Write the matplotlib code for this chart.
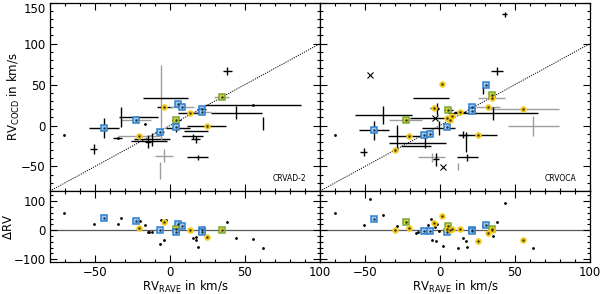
import numpy as np
import matplotlib
matplotlib.use('Agg')
import matplotlib.pyplot as plt
from matplotlib.ticker import MultipleLocator

# ---------------- CRVAD-2 (left) ----------------
ad_rave = [-71, -51, -44, -35, -23, -33, -17, -21, -12, -15, -6, -4, -3, -7, 5.5, 8, 4, 4,
           13, 21, 21, 24.4, 34.5, 38, 55, 44, 62, 18.4, 15, 17, -4, -7, -14, -20, 5, 17]
ad_cocd = [-11, -29, -3, -15, 7, 10, 2, -13, -17, -20, 28, 23, 33, -8, 26.6, 22.6, 7, -2,
           15, 20.6, 16, 0, 34.7, 66.6, 25, 15.4, 2, -39, -13, -17, -37, -55, -19, 10.5, -3, -7]
ad_xerr = [0, 2.5, 10, 3, 10, 1, 0, 14, 12, 2, 0, 5, 15, 3, 2, 8, 3, 1,
           8, 3, 6, 13, 5, 3, 32, 17, 0, 7, 7, 3, 6, 0, 12, 12, 8, 8]
ad_yerr = [0, 6, 12, 0, 4, 12, 0, 0, 8, 8, 46, 0, 0, 3, 3, 0, 0, 6,
           0, 2, 0, 0, 0, 5, 0, 8, 8, 3, 3, 4, 8, 10, 0, 0, 0, 0]
ad_kind = ['k', 'c', 'b', 'k', 'b', 'c', 'k', 'y', 'c', 'c', 'c', 'y', 'c', 'b', 'b', 'b', 'g', 'b',
           'y', 'b', 'b', 'y', 'g', 'c', 'k', 'c', 'c', 'c', 'c', 'c', 'c', 'c', 'c', 'c', 'c', 'c']
ad_grey = [0, 0, 0, 0, 1, 0, 0, 1, 0, 0, 1, 0, 0, 0, 0, 1, 0, 0,
           0, 0, 1, 0, 1, 0, 0, 0, 0, 0, 0, 0, 1, 1, 0, 0, 0, 0]

# ---------------- CRVOCA (right) ----------------
oc_rave = [43, -47, 38, 1, 30.7, 28.5, 34.5, 34.5, -6, -4, -2, 5.6, 13.4, 21.6, 21, 32, 55, 35,
           -38, -23, 62, -44, -70, -21, -29, -30, -51, -10.6, -6.6, 4.5, 25, 15.6, 17.5, 18,
           -5.5, -3, 2.3, 12.3, -1, -10, -15, -16, 4.5, 6.7, 7.8, -3.3, -8]
oc_cocd = [136, 62, 66.5, 51, 49, 43, 37.5, 33.5, 33.5, 21, 20, 19, 16.5, 22, 18, 22, 20.5, 15,
           13, 6.5, -1, -6, -11, -13, -15, -30, -32, -12, -10, -2, -12, -11, -20, -39,
           -39, -41, -51, -50, -3, -18, -21, -25, 9, 7, 11, 9, 9]
oc_xerr = [1.5, 0, 4, 0, 0, 0, 0, 9, 12, 3, 1, 3, 4, 0, 2, 8, 24, 30,
           19, 11, 17, 10, 0, 14, 0, 0, 2.5, 2, 2, 0, 13, 3, 0, 7,
           9, 2, 0, 0, 11, 0, 19, 10, 0, 0, 0, 0, 12]
oc_yerr = [3, 0, 5, 0, 0, 4, 0, 0, 0, 0, 7, 0, 0, 0, 0, 0, 0, 8,
           11, 0, 12, 12, 0, 0, 16, 0, 5, 0, 0, 0, 0, 4, 12, 4,
           6, 8, 0, 4, 8, 10, 0, 0, 0, 0, 0, 0, 0]
oc_kind = ['c', 'x', 'c', 'y', 'b', 'c', 'g', 'y', 'c', 'y', 'c', 'g', 'y', 'b', 'b', 'y', 'y', 'c',
           'c', 'g', 'c', 'b', 'k', 'y', 'c', 'y', 'c', 'b', 'b', 'b', 'y', 'c', 'c', 'c',
           'c', 'c', 'x', 'c', 'c', 'c', 'c', 'c', 'y', 'y', 'y', 'x', 'c']
oc_grey = [0, 0, 0, 0, 0, 0, 0, 1, 0, 0, 0, 0, 0, 0, 0, 1, 1, 0,
           0, 1, 1, 0, 0, 0, 0, 0, 0, 0, 0, 0, 0, 0, 0, 0,
           1, 0, 0, 1, 0, 0, 0, 0, 0, 0, 0, 0, 0]

panel_names = ['CRVAD-2', 'CRVOCA']
x_ticks = [-50, 0, 50, 100]
top_yticks = [-50, 0, 50, 100, 150]
bot_yticks = [-100, 0, 100]

BLUE_E = '#2f7fd0'
BLUE_F = '#9fcaf0'
YEL = '#f2cc1a'
GRN_E = '#78a83a'
GRN_F = '#d9cf3a'
FS = 8.5

plt.rcParams['font.family'] = ['DejaVu Sans']
fig = plt.figure(figsize=(6.0, 2.94), dpi=100)

L0, W = 50 / 600, 270 / 600
top_b, top_h = 1 - 191 / 294, (191 - 2.7) / 294
bot_b, bot_h = 1 - 262 / 294, (262 - 191) / 294


def style(ax, ylabels, xlabels, ymajor, yminor):
    ax.set_xlim(-80, 100)
    ax.xaxis.set_major_locator(MultipleLocator(50))
    ax.xaxis.set_minor_locator(MultipleLocator(10))
    ax.yaxis.set_major_locator(MultipleLocator(ymajor))
    ax.yaxis.set_minor_locator(MultipleLocator(yminor))
    ax.tick_params(which='both', direction='in', top=True, right=True, width=0.8,
                   labelsize=FS, pad=3)
    ax.tick_params(which='major', length=5)
    ax.tick_params(which='minor', length=2.5)
    ax.tick_params(labelleft=ylabels, labelbottom=xlabels)
    for s in ax.spines.values():
        s.set_linewidth(0.9)


def marker(ax, x, y, k, bottom=False):
    if k == 'b':
        ax.plot(x, y, 's', ms=4.4, mfc=BLUE_F, mec=BLUE_E, mew=1.1, zorder=4)
        ax.plot(x, y, '.', ms=1.5, color='#203040', zorder=5)
    elif k == 'y':
        ax.plot(x, y, 'o', ms=4.0, mfc=YEL, mec=YEL, mew=0.6, zorder=4)
        ax.plot(x, y, '.', ms=1.5, color='#403010', zorder=5)
    elif k == 'g':
        ax.plot(x, y, 's', ms=4.4, mfc=GRN_F, mec=GRN_E, mew=1.1, zorder=4)
        ax.plot(x, y, '.', ms=1.5, color='#303010', zorder=5)
    elif k == 'x' and not bottom:
        ax.plot(x, y, 'x', ms=5, color='k', mew=0.8, zorder=4)
    elif k == 'k' or bottom:
        ax.plot(x, y, '.', ms=2, color='k', zorder=3)


def draw_top(ax, rave, cocd, xerr, yerr, kind, grey):
    ax.plot([-80, 100], [-80, 100], ls=(0, (1.2, 1.2)), color='k', lw=0.7, zorder=1)
    for x, y, ex, ey, k, g in zip(rave, cocd, xerr, yerr, kind, grey):
        col = '0.62' if g else 'k'
        if ex > 0 or ey > 0:
            ax.errorbar(x, y, xerr=ex if ex > 0 else None, yerr=ey if ey > 0 else None,
                        fmt='none', ecolor=col, elinewidth=1.0, capsize=0, zorder=2)
        marker(ax, x, y, k)


def draw_bot(ax, rave, cocd, kind):
    ax.axhline(0, color='0.35', lw=0.9, zorder=1)
    d = np.array(cocd) - np.array(rave)
    for x, y, k in zip(rave, d, kind):
        marker(ax, x, y, k, bottom=True)


datasets = [
    (ad_rave, ad_cocd, ad_xerr, ad_yerr, ad_kind, ad_grey),
    (oc_rave, oc_cocd, oc_xerr, oc_yerr, oc_kind, oc_grey),
]

for i, (rave, cocd, xerr, yerr, kind, grey) in enumerate(datasets):
    left = L0 + i * W
    axt = fig.add_axes([left, top_b, W, top_h])
    draw_top(axt, rave, cocd, xerr, yerr, kind, grey)
    style(axt, i == 0, False, 50, 10)
    axt.set_xticks(x_ticks)
    axt.set_yticks(top_yticks)
    axt.set_xlim(-80, 100)
    axt.set_ylim(-80, 150)
    axt.text(0.95, 0.04, panel_names[i], transform=axt.transAxes, ha='right', va='bottom',
             fontsize=5.5)

    axb = fig.add_axes([left, bot_b, W, bot_h])
    draw_bot(axb, rave, cocd, kind)
    style(axb, i == 0, True, 100, 20)
    axb.set_xticks(x_ticks)
    axb.set_yticks(bot_yticks)
    axb.set_xlim(-80, 100)
    axb.set_ylim(-110, 135)
    axb.set_xlabel(r'RV$_{\mathrm{RAVE}}$ in km/s', fontsize=FS)
    axb.xaxis.set_label_coords(0.5, -0.24)
    if i == 0:
        axt.set_ylabel(r'RV$_{\mathrm{COCD}}$ in km/s', fontsize=FS)
        axt.yaxis.set_label_coords(-28 / 270, 0.5)
        axb.set_ylabel(r'$\Delta$RV', fontsize=FS)
        axb.yaxis.set_label_coords(-35 / 270, 0.5)
        fig.canvas.draw()
        for lab in axt.get_yticklabels():
            if lab.get_text() in ('150',):
                lab.set_verticalalignment('top')

fig.savefig('out.png', dpi=100)
